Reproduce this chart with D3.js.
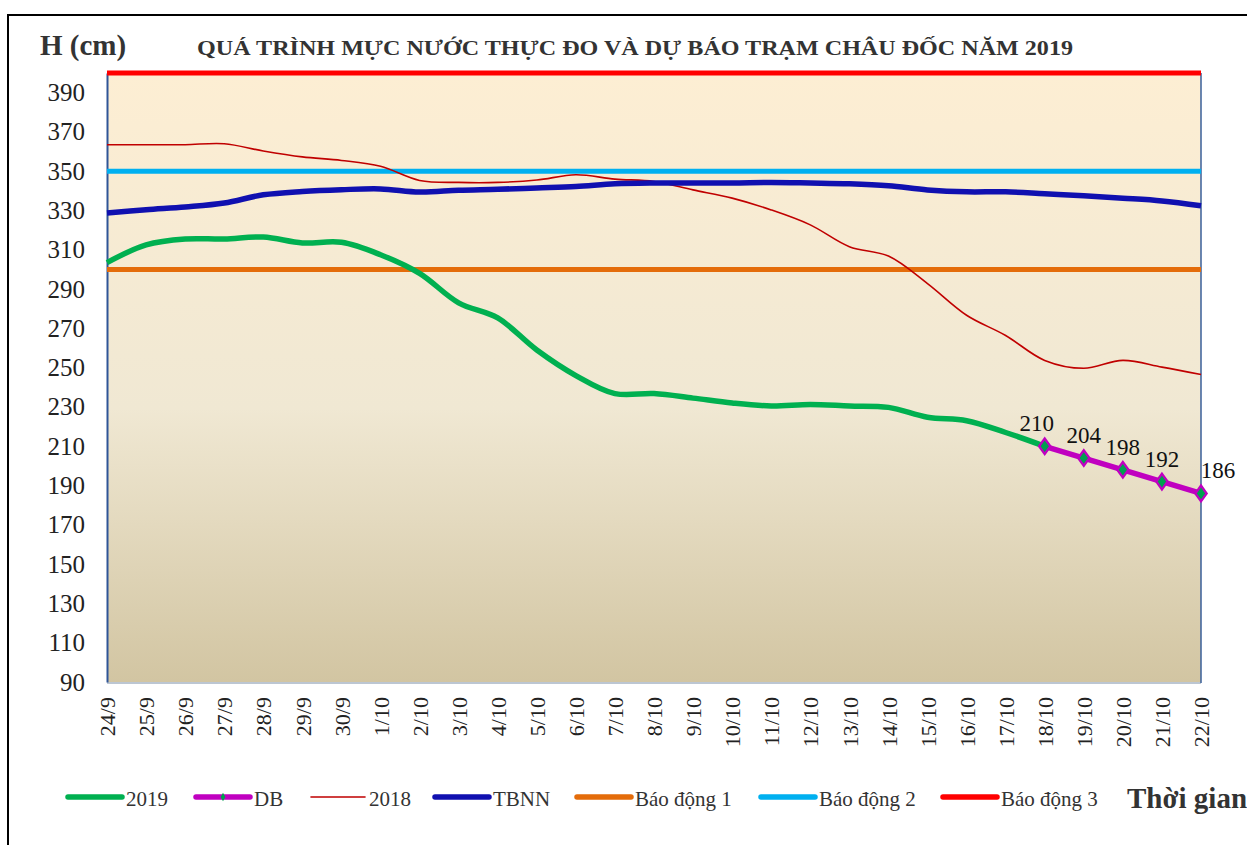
<!DOCTYPE html>
<html><head><meta charset="utf-8">
<script src="https://cdn.jsdelivr.net/npm/d3@7/dist/d3.min.js"></script>
<style>
html,body{margin:0;padding:0;background:#fff;}
svg{display:block;font-family:"Liberation Serif","Times New Roman",serif;}
svg text{font-family:"Liberation Serif","Times New Roman",serif;}
</style></head>
<body><svg id="c" width="1247" height="845"></svg>
<script>
const dates = ["24/9","25/9","26/9","27/9","28/9","29/9","30/9","1/10","2/10","3/10","4/10","5/10","6/10","7/10","8/10","9/10","10/10","11/10","12/10","13/10","14/10","15/10","16/10","17/10","18/10","19/10","20/10","21/10","22/10"];
const v2019 = [303.5,312.5,315.5,315.5,316.5,313.5,313.8,307.5,298,283,275.3,259,246,236.8,236.8,234.5,232,230.5,231.3,230.5,229.8,224.8,223,217,210];
const dbDates = ["18/10","19/10","20/10","21/10","22/10"];
const dbValues = [210,204,198,192,186];
const v2018 = [363.5,363.5,363.5,364,360.3,357.3,355.5,352.5,345.3,344.3,344.3,345.5,348.2,346,344.8,340.5,336.3,330.3,322.7,311.6,306.8,292.8,276.7,266.4,253.7,249.7,253.7,250.3,246.5];
const tbnn = [328.7,330.4,331.8,333.8,338,339.7,340.6,341,339.4,340.3,340.8,341.5,342.2,343.6,344,344,344,344.3,344,343.6,342.6,340.5,339.5,339.5,338.5,337.5,336.3,334.9,332.4];
const alarmNames = ["Báo động 1","Báo động 2","Báo động 3"];
const alarmValues = [300,350,400];
const yTicks = [90,110,130,150,170,190,210,230,250,270,290,310,330,350,370,390];
const title = "QUÁ TRÌNH MỰC NƯỚC THỰC ĐO VÀ DỰ BÁO TRẠM  CHÂU ĐỐC NĂM  2019";

const svg = d3.select("#c");
const L=107,R=1201,T=73,B=682;
const x = d3.scalePoint().domain(dates).range([L,R]);
const y = d3.scaleLinear().domain([90,400]).range([B,T]);

// outer frame
svg.append("rect").attr("x",8).attr("y",15).attr("width",1300).attr("height",900)
  .attr("fill","none").attr("stroke","#000").attr("stroke-width",2);

// gradient
const defs = svg.append("defs");
const g = defs.append("linearGradient").attr("id","bg").attr("x1",0).attr("y1",0).attr("x2",0).attr("y2",1);
g.append("stop").attr("offset","0").attr("stop-color","#FDEED3");
g.append("stop").attr("offset","0.55").attr("stop-color","#F0E8D3");
g.append("stop").attr("offset","1").attr("stop-color","#D2C5A2");
svg.append("rect").attr("x",L).attr("y",T).attr("width",R-L).attr("height",B-T).attr("fill","url(#bg)");

// plot borders
svg.append("line").attr("x1",L).attr("x2",R).attr("y1",B+1).attr("y2",B+1).attr("stroke","#BCC6D2").attr("stroke-width",2);
svg.append("line").attr("x1",R).attr("x2",R).attr("y1",T).attr("y2",B+1).attr("stroke","#3A5F9A").attr("stroke-width",1.5);

// y axis
const ya = svg.append("g").attr("transform",`translate(${L},0)`)
  .call(d3.axisLeft(y).tickValues(yTicks).tickSize(0).tickPadding(22));
ya.attr("font-family",null).attr("font-size",null);
ya.select(".domain").attr("stroke","#2F5597").attr("stroke-width",2);
ya.selectAll("text").style("font-size","25px").attr("fill","#222");

// x axis
const xa = svg.append("g").attr("transform",`translate(0,${B})`)
  .call(d3.axisBottom(x).tickSize(0));
xa.attr("font-family",null).attr("font-size",null);
xa.select(".domain").remove();
xa.selectAll("text").style("font-size","22px").attr("fill","#222")
  .attr("transform","rotate(-90)").attr("text-anchor","end").attr("x",-15).attr("y",0).attr("dy","0.35em");

// alarm lines
const alarmColors = ["#E46C0A","#00B0F0","#FF0000"];
alarmValues.forEach((v,i)=>{
  svg.append("line").attr("x1",L).attr("x2",R).attr("y1",y(v)).attr("y2",y(v))
    .attr("stroke",alarmColors[i]).attr("stroke-width",5);
});

const smooth = d3.line().x((d,i)=>x(dates[i])).y(d=>y(d)).curve(d3.curveCatmullRom.alpha(0.5));

svg.append("path").attr("d",smooth(v2018)).attr("fill","none").attr("stroke","#C00000").attr("stroke-width",1.6);
svg.append("path").attr("d",smooth(tbnn)).attr("fill","none").attr("stroke","#1010B0").attr("stroke-width",5.5);
svg.append("path").attr("d",smooth(v2019)).attr("fill","none").attr("stroke","#00B050").attr("stroke-width",5.5);

const dbLine = d3.line().x((d,i)=>x(dbDates[i])).y(d=>y(d));
svg.append("path").attr("d",dbLine(dbValues)).attr("fill","none").attr("stroke","#C000C0").attr("stroke-width",5.5);
const diamond = d3.symbol().type(d3.symbolDiamond).size(70);
svg.selectAll(".mk").data(dbValues).join("path").attr("class","mk")
  .attr("d",diamond).attr("transform",(d,i)=>`translate(${x(dbDates[i])},${y(d)}) scale(1.25,1)`)
  .attr("fill","#00A050").attr("stroke","#C000C0").attr("stroke-width",2);
svg.selectAll(".lb").data(dbValues).join("text").attr("class","lb")
  .attr("x",(d,i)=>x(dbDates[i]) + (i===dbValues.length-1?17:(i===0?-8:0)))
  .attr("y",(d,i)=>y(d)-15).attr("text-anchor","middle")
  .style("font-size","23px").attr("fill","#111").text(d=>d);

// titles
svg.append("text").attr("x",40).attr("y",55).style("font-size","29px").attr("font-weight","bold").attr("fill","#333").text("H (cm)");
svg.append("text").attr("x",197).attr("y",55).style("font-size","21px").attr("font-weight","bold").attr("fill","#333")
  .attr("textLength",876).attr("lengthAdjust","spacingAndGlyphs").text(title);

// legend
const legend = [
  {name:"2019",color:"#00B050",w:5.5,x:68,mk:false},
  {name:"DB",color:"#C000C0",w:5.5,x:196,mk:true},
  {name:"2018",color:"#C00000",w:1.6,x:311,mk:false},
  {name:"TBNN",color:"#1010B0",w:5.5,x:435,mk:false},
  {name:alarmNames[0],color:alarmColors[0],w:5.5,x:577,mk:false},
  {name:alarmNames[1],color:alarmColors[1],w:5.5,x:761,mk:false},
  {name:alarmNames[2],color:alarmColors[2],w:5.5,x:943,mk:false}
];
const lg = svg.append("g");
legend.forEach(it=>{
  lg.append("line").attr("x1",it.x).attr("x2",it.x+54).attr("y1",797).attr("y2",797)
    .attr("stroke",it.color).attr("stroke-width",it.w).attr("stroke-linecap","round");
  if(it.mk) lg.append("path").attr("d",d3.symbol().type(d3.symbolDiamond).size(20)).attr("transform",`translate(${it.x+27},797)`).attr("fill","#00A050");
  lg.append("text").attr("x",it.x+58).attr("y",806).style("font-size","21px").attr("fill","#333").text(it.name);
});
svg.append("text").attr("x",1127).attr("y",808).style("font-size","29px").attr("font-weight","bold").attr("fill","#333").text("Thời gian");
</script></body></html>
